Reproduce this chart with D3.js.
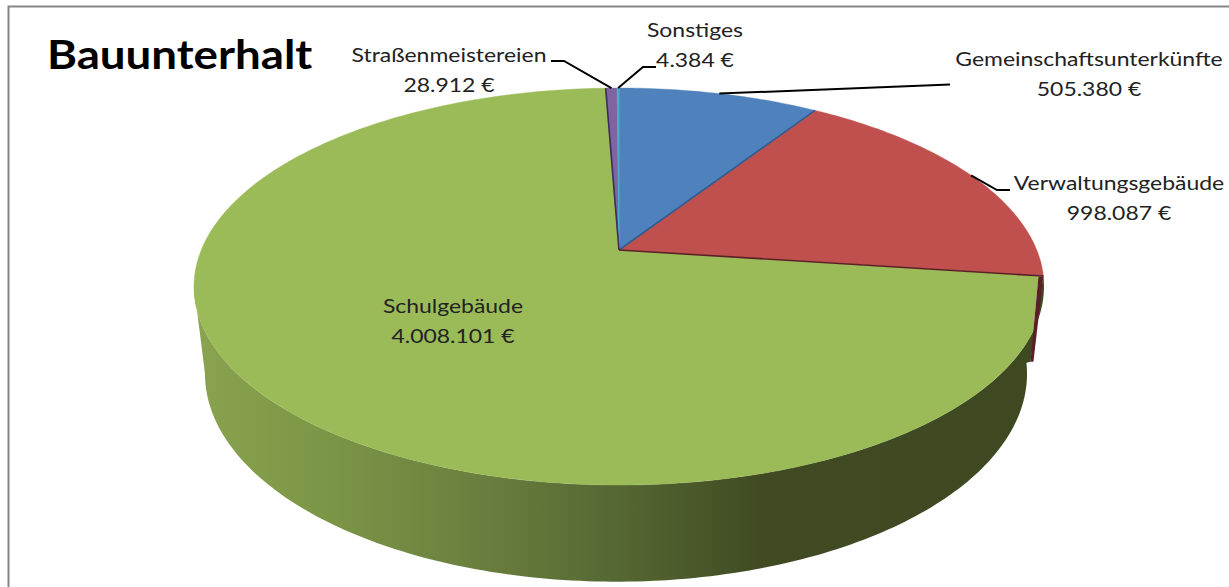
<!DOCTYPE html>
<html><head><meta charset="utf-8">
<script src="https://cdn.jsdelivr.net/npm/d3@7/dist/d3.min.js"></script>
<style>html,body{margin:0;padding:0;background:#fff;overflow:hidden}svg{display:block}text{font-family:Lato,"Noto Sans",sans-serif}</style>
</head><body><div id="chart"></div>
<script>
const categories = ["Gemeinschaftsunterkünfte","Verwaltungsgebäude","Schulgebäude","Straßenmeistereien","Sonstiges"];
const values = [505380,998087,4008101,28912,4384];
const valueLabels = ["505.380 €","998.087 €","4.008.101 €","28.912 €","4.384 €"];
const colors = ["#4f81bd","#c0504d","#9bbb59","#8064a2","#4bacc6"];
const title = "Bauunterhalt";

const W=1229,H=587;
const svg=d3.select("#chart").append("svg").attr("width",W).attr("height",H);
const defs=svg.append("defs");
const grad=defs.append("linearGradient").attr("id","wall").attr("gradientUnits","userSpaceOnUse")
  .attr("x1",194).attr("x2",1044).attr("y1",0).attr("y2",0);
[[0,"#8aa34f"],[.15,"#7c9647"],[.337,"#6a7f3e"],[.5,"#556732"],[.665,"#404b23"],[1,"#3e4921"]]
  .forEach(([o,c])=>grad.append("stop").attr("offset",o).attr("stop-color",c));

// perspective projection of the unit circle (top face and bottom face of the disc)
const tilt=0.184;
const proj=(cx,cy,rx,b)=>{const k=rx*Math.sqrt(1-tilt*tilt);
  return (ang,r=1)=>{const u=r*Math.sin(ang),v=-r*Math.cos(ang),d=1-tilt*v;return [cx+k*u/d,cy+b*v/d];};};
const topFace=proj(619,250,425,191.8), lowFace=proj(616,335.6,411,200.8);

const pie=d3.pie().sort(null).value(d=>d).startAngle(0).endAngle(2*Math.PI);
const arcs=pie(values);
const line=d3.line();
const arcPts=(f,a0,a1)=>{const n=Math.max(2,Math.ceil((a1-a0)*60));return d3.range(n+1).map(i=>f(a0+(a1-a0)*i/n));};

// frame
const frame=svg.append("g").attr("stroke","#868686").attr("stroke-width",2).attr("fill","none");
frame.append("path").attr("d",line([[8.5,587],[8.5,6.5],[1229,6.5]]));

// cut face of the red slice, geometry
const sch=arcs[2], ver=arcs[1];
const r0=topFace(ver.endAngle), rl=lowFace(ver.endAngle);
const r1=[rl[0]+7,rl[1]-1];
const inner0=[r0[0]-5,r0[1]+1], inner1=[r1[0]-3,r1[1]];

// side wall: runs from the end of the red slice to the left silhouette of the disc
const lastWall=Math.PI+Math.acos(tilt);
svg.append("path").attr("fill","url(#wall)")
  .attr("d",line([...arcPts(topFace,sch.startAngle,lastWall),...arcPts(lowFace,sch.startAngle,lastWall).reverse(),inner1])+"Z");

// top face; the green slice is trimmed at the cut face of the red slice
defs.append("clipPath").attr("id","trim").append("polygon")
  .attr("points",[[0,0],[W,0],[W,r0[1]],inner0,inner1,[inner1[0],H],[0,H]].map(p=>p.join(",")).join(" "));
const apex=topFace(0,0);
svg.append("g").selectAll("path").data(arcs).join("path")
  .attr("fill",(d,i)=>colors[i])
  .attr("stroke",(d,i)=>colors[i]).attr("stroke-width",(d,i)=>i===4?1:.4)
  .attr("clip-path",(d,i)=>i===2?"url(#trim)":null)
  .attr("d",d=>line([apex,...arcPts(topFace,d.startAngle,d.endAngle)])+"Z");
svg.append("path").attr("fill","#5c1f28").attr("d",line([r0,r1,inner1,inner0])+"Z");
// slice edges
const edges=[[arcs[0].endAngle,"#2f5d92"],[arcs[1].endAngle,"#5c1f28"],[arcs[3].startAngle,"#3d2d5c"]];
svg.append("g").selectAll("path").data(edges).join("path")
  .attr("fill","none").attr("stroke",d=>d[1]).attr("stroke-width",1.6)
  .attr("d",d=>line([apex,topFace(d[0])]));

// leader lines
const mid=d=>(d.startAngle+d.endAngle)/2;
const leaders=[[0,[[950,84.5]]],[1,[[1010,190],[997,190]]],[3,[[551,61],[564,61]]],[4,[[656,67],[643,67]]]];
svg.append("g").selectAll("path").data(leaders).join("path")
  .attr("fill","none").attr("stroke","#000").attr("stroke-width",2)
  .attr("d",([i,p])=>line([...p,topFace(mid(arcs[i]))]));

// labels (the reference is stretched horizontally)
const sx=1.177;
const pos=[[1089,66],[1119,190],[453,313],[449,62],[695,37]];
const lab=svg.append("g").attr("text-anchor","middle").attr("font-size",19.5).attr("fill","#222");
categories.forEach((c,i)=>{
  lab.append("text").attr("transform",`translate(${pos[i][0]},${pos[i][1]}) scale(${sx},1)`).text(c);
  lab.append("text").attr("transform",`translate(${pos[i][0]},${pos[i][1]+30}) scale(${sx},1)`).text(valueLabels[i]);
});
svg.append("text").attr("transform","translate(47,69) scale(1.114,1)").attr("font-size",41).attr("font-weight",700).attr("fill","#000").text(title);
</script></body></html>
